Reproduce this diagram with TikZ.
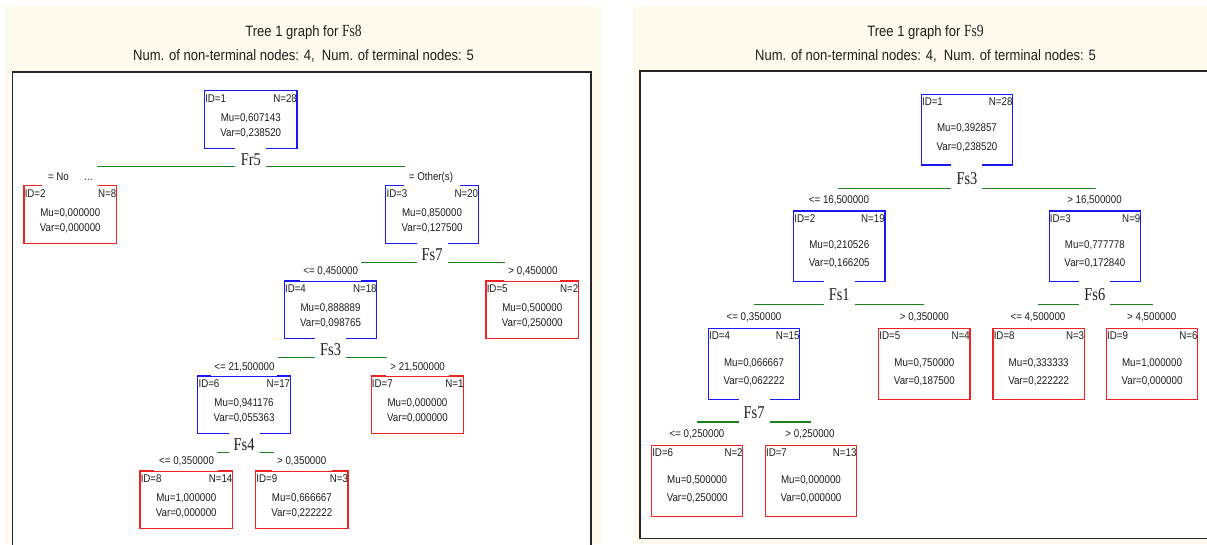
\documentclass[tikz,border=0pt]{standalone}
\usepackage{fontspec}
\usetikzlibrary{calc}
\newfontfamily\nfont[FakeStretch=0.87]{Liberation Sans}
\newfontfamily\serfont[FakeStretch=0.8]{Liberation Serif}
\definecolor{cream}{RGB}{255,250,238}
\definecolor{nblue}{RGB}{25,25,245}
\definecolor{nred}{RGB}{240,35,35}
\definecolor{sgreen}{RGB}{25,130,25}
\definecolor{ink}{RGB}{30,30,30}
\def\nw{92.5}\def\nh{57.5}\def\oid{12.6}\def\omu{31.6}\def\ovar{46}
\tikzset{
  tbox/.style={rectangle,inner sep=0pt,minimum width=\nw pt,minimum height=\nh pt,line width=1.3pt,fill=white},
  txt/.style={inner sep=0pt,text=ink,font=\nfont\fontsize{11.2}{13}\selectfont},
  splab/.style={inner sep=0pt,text=ink,font=\serfont\fontsize{18}{20}\selectfont},
  split/.style={draw=sgreen,line width=1.2pt},
  frame/.style={draw=black!85,line width=1.6pt},
  ttl/.style={inner sep=0pt,text=ink,font=\nfont\fontsize{15}{18}\selectfont},
}
% #1 name #2 xleft #3 ytop #4 colour #5 ID #6 N #7 Mu #8 Var #9 top gap inset (0 = none)
\newcommand\tnode[9]{%
  \node[tbox,draw=#4] (#1) at (#2+\nw/2,#3+\nh/2) {};
  \ifdim #9pt>0pt \fill[white] ($(#1.north west)+(#9,-1)$) rectangle ($(#1.north east)+(-#9,1)$);\fi
  \node[txt,anchor=base west] (#1id) at ($(#1.north west)+(1.2,\oid)$) {ID=#5};
  \node[txt,anchor=base east] (#1n) at ($(#1.north east)+(-0.6,\oid)$) {N=#6};
  \node[txt,anchor=base] (#1mu) at ($(#1.north)+(0,\omu)$) {Mu=#7};
  \node[txt,anchor=base] (#1var) at ($(#1.north)+(0,\ovar)$) {Var=#8};
}
% #1 name #2 parent #3 label #4 line y #5 x left #6 x right #7 label baseline
\newcommand\splitat[7]{%
  \coordinate (#1l) at (#5,#4);
  \coordinate (#1r) at (#6,#4);
  \draw[split] (#1l) -- (#1r);
  \fill[white] ($(#2.south)+(-15.5,-1.5)$) rectangle ($(#2.south |- #1l)+(15.5,1.5)$);
  \node[splab,anchor=base] (#1) at (#2.south |- 0,#7) {#3};
}
\begin{document}
\begin{tikzpicture}[x=1pt,y=-1pt]
\useasboundingbox (0,0) rectangle (1207,544);
\fill[white] (0,0) rectangle (1207,544);
\fill[cream] (5,6) rectangle (601,544);
\fill[cream] (633,6) rectangle (1207,544);
% frames
\fill[white] (12.6,72) rectangle (590.7,550);
\draw[frame] (12.6,552) -- (12.6,72) -- (590.7,72) -- (590.7,552);
\fill[white] (640,71) rectangle (1215,538.5);
\draw[frame] (1215,71) -- (640,71) -- (640,538.5) -- (1215,538.5);
% titles
\node[ttl,anchor=base] (t1) at (303.5,36.5) {Tree 1 graph for {\serfont\fontsize{17}{18}\selectfont Fs8}};
\node[ttl,anchor=base] (st1) at (303.5,60) {Num. of non-terminal nodes: 4,\ \ Num. of terminal nodes: 5};
\node[ttl,anchor=base] (t2) at (925.5,36.5) {Tree 1 graph for {\serfont\fontsize{17}{18}\selectfont Fs9}};
\node[ttl,anchor=base] (st2) at (925.5,60) {Num. of non-terminal nodes: 4,\ \ Num. of terminal nodes: 5};
% ---------------- left tree
\tnode{La}{204.5}{90.7}{nblue}{1}{28}{0,607143}{0,238520}{0}
\tnode{Lb}{24}{185.7}{nred}{2}{8}{0,000000}{0,000000}{19}
\tnode{Lc}{385.8}{185.7}{nblue}{3}{20}{0,850000}{0,127500}{19}
\tnode{Ld}{284.3}{281}{nblue}{4}{18}{0,888889}{0,098765}{16}
\tnode{Le}{486}{281}{nred}{5}{2}{0,500000}{0,250000}{19}
\tnode{Lf}{197.8}{376}{nblue}{6}{17}{0,941176}{0,055363}{14}
\tnode{Lg}{371.2}{376}{nred}{7}{1}{0,000000}{0,000000}{15}
\tnode{Lh}{140}{471}{nred}{8}{14}{1,000000}{0,000000}{15}
\tnode{Li}{255.6}{471}{nred}{9}{3}{0,666667}{0,222222}{17}
\splitat{Ls1}{La}{Fr5}{166.7}{97}{404.5}{165.5}
\splitat{Ls2}{Lc}{Fs7}{262.3}{361}{505}{260.3}
\splitat{Ls3}{Ld}{Fs3}{357.3}{277.5}{387.3}{355}
\splitat{Ls4}{Lf}{Fs4}{452.3}{217}{274.4}{450}
\node[txt,anchor=base] (Lb1) at (58.5,180) {= No};
\node[txt,anchor=base] (Lb1x) at (88.5,180) {...};
\node[txt,anchor=base] (Lb2) at (431,180) {= Other(s)};
\node[txt,anchor=base] (Lb3) at (330.7,274.7) {<= 0,450000};
\node[txt,anchor=base] (Lb4) at (533,274.7) {> 0,450000};
\node[txt,anchor=base] (Lb5) at (244.5,370) {<= 21,500000};
\node[txt,anchor=base] (Lb6) at (417.7,370) {> 21,500000};
\node[txt,anchor=base] (Lb7) at (186.6,464.7) {<= 0,350000};
\node[txt,anchor=base] (Lb8) at (301.7,464.7) {> 0,350000};
% ---------------- right tree
\def\nw{91.3}\def\nh{70.7}\def\oid{11.8}\def\omu{38.2}\def\ovar{56.4}
\tnode{Ra}{921.3}{94.3}{nblue}{1}{28}{0,392857}{0,238520}{0}
\tnode{Rb}{793.6}{211}{nblue}{2}{19}{0,210526}{0,166205}{0}
\tnode{Rc}{1049.2}{211}{nblue}{3}{9}{0,777778}{0,172840}{0}
\tnode{Rd}{708.4}{328.7}{nblue}{4}{15}{0,066667}{0,062222}{0}
\tnode{Re}{878.7}{328.7}{nred}{5}{4}{0,750000}{0,187500}{0}
\tnode{Rh}{993}{328.7}{nred}{8}{3}{0,333333}{0,222222}{0}
\tnode{Ri}{1106.4}{328.7}{nred}{9}{6}{1,000000}{0,000000}{0}
\tnode{Rf}{651.5}{445.7}{nred}{6}{2}{0,500000}{0,250000}{0}
\tnode{Rg}{765.3}{445.7}{nred}{7}{13}{0,000000}{0,000000}{0}
\splitat{Rs1}{Ra}{Fs3}{188.3}{838}{1095.6}{184.3}
\splitat{Rs2}{Rb}{Fs1}{304.3}{753.7}{924.4}{300.8}
\splitat{Rs3}{Rc}{Fs6}{304.3}{1037.5}{1152.5}{300.8}
\splitat{Rs4}{Rd}{Fs7}{422}{696.8}{811}{418.3}
\node[txt,anchor=base] (Rb1) at (839,203.3) {<= 16,500000};
\node[txt,anchor=base] (Rb2) at (1094.5,203.3) {> 16,500000};
\node[txt,anchor=base] (Rb3) at (754,320) {<= 0,350000};
\node[txt,anchor=base] (Rb4) at (924.4,320) {> 0,350000};
\node[txt,anchor=base] (Rb5) at (1038,320) {<= 4,500000};
\node[txt,anchor=base] (Rb6) at (1151.7,320) {> 4,500000};
\node[txt,anchor=base] (Rb7) at (697,437.3) {<= 0,250000};
\node[txt,anchor=base] (Rb8) at (810,437.3) {> 0,250000};
\end{tikzpicture}
\end{document}
